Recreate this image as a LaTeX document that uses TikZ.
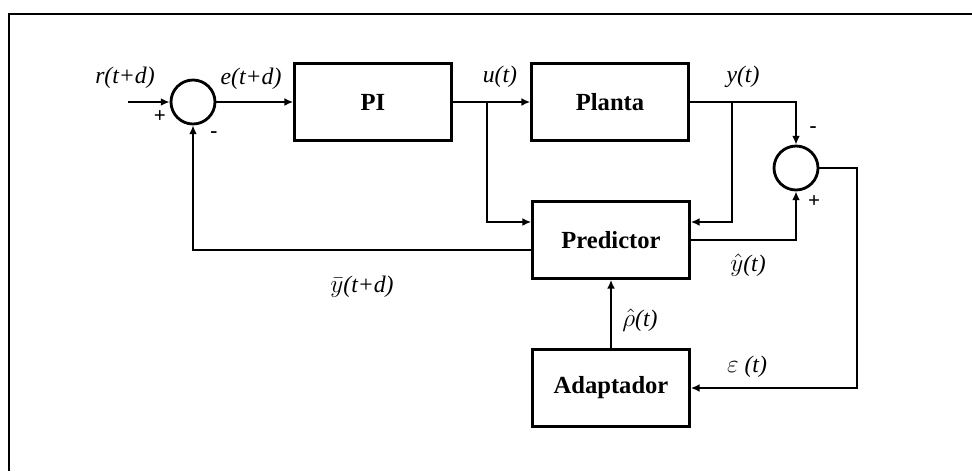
\documentclass[tikz,border=0pt]{standalone}
\usepackage{fontspec}
\setmainfont{Liberation Serif}
\usepackage{tikz}
\usetikzlibrary{arrows.meta,positioning,calc}
\definecolor{ctrl@ink}{RGB}{0,0,0}
\tikzset{
  ctrl/.style={
    >={Latex[length=5pt,width=4.5pt]},
    line width=1.5pt,
    draw=ctrl@ink
  },
  block/.style={                   % system block
    draw=ctrl@ink, line width=1.5pt,
    minimum width=3.14cm,
    minimum height=1.54cm,
    inner sep=0pt,
    font=\fontsize{14}{16}\selectfont\bfseries
  },
  sumnode/.style={                 % summing junction
    draw=ctrl@ink, line width=1.6pt,
    circle, minimum size=0.88cm, inner sep=0pt
  },
  sig/.style={->, line width=1.5pt, draw=ctrl@ink},
  siglabel/.style={font=\fontsize{13.5}{15}\selectfont\itshape, inner sep=1pt},
  signlabel/.style={font=\fontsize{12}{14}\selectfont\bfseries, inner sep=0pt},
  frameline/.style={line width=1pt, draw=ctrl@ink}
}

\begin{document}
\begin{tikzpicture}[ctrl, x=0.02cm, y=-0.02cm]
\useasboundingbox (0,0) rectangle (972,471);

% Frame
\draw[frameline] (972,14) -- (9,14) -- (9,471);

% Blocks
\node[block] (pi)     at (373,102) {PI};
\node[block] (planta) at (610,102) {Planta};
\node[block] (pred)   at (611,240) {Predictor};
\node[block] (adapt)  at (611,388) {Adaptador};

% Summing junctions
\node[sumnode] (sum1) at (193,102) {};
\node[sumnode] (sum2) at (796,168) {};

% Branch points
\coordinate (rin)  at (128,102);
\coordinate (ubr)  at (487,102);
\coordinate (ybr)  at (732,102);
\coordinate (eout) at (857,168);

% Forward path
\draw[sig] (rin) -- (sum1);
\draw[sig] (sum1) -- (pi);
\draw[sig] (pi) -- (planta);
\draw[sig] (planta.east) -- (sum2 |- planta.east) -- (sum2);

% Predictor inputs
\draw[sig] (ubr) |- ($(pred.west)+(0,-18)$);
\draw[sig] (ybr) |- ($(pred.east)+(0,-18)$);

% Predictor outputs
\draw[sig] (pred.east) -| (sum2);
\draw[sig] ($(pred.west)+(0,10)$) -| (sum1);

% Adaptation loop
\draw[sig] (sum2.east) -- (eout) |- (adapt.east);
\draw[sig] (adapt) -- (pred);

% Signal labels
\node[siglabel] (lr)   at (125,78)  {r(t+d)};
\node[siglabel] (le)   at (251,79)  {e(t+d)};
\node[siglabel] (lu)   at (500,77)  {u(t)};
\node[siglabel] (ly)   at (743,77)  {y(t)};
\node[siglabel] (lyh)  at (748,265) {$\hat{y}$(t)};
\node[siglabel] (lyb)  at (362,287) {$\bar{y}$(t+d)};
\node[siglabel] (lrho) at (640,320) {$\hat{\rho}$(t)};
\node[siglabel] (leps) at (747,367) {$\varepsilon$ (t)};

% Signs
\node[signlabel] (s1p) at (160,117) {+};
\node[signlabel] (s1m) at (214,135) {-};
\node[signlabel] (s2m) at (813,130) {-};
\node[signlabel] (s2p) at (814,202) {+};

\end{tikzpicture}
\end{document}
